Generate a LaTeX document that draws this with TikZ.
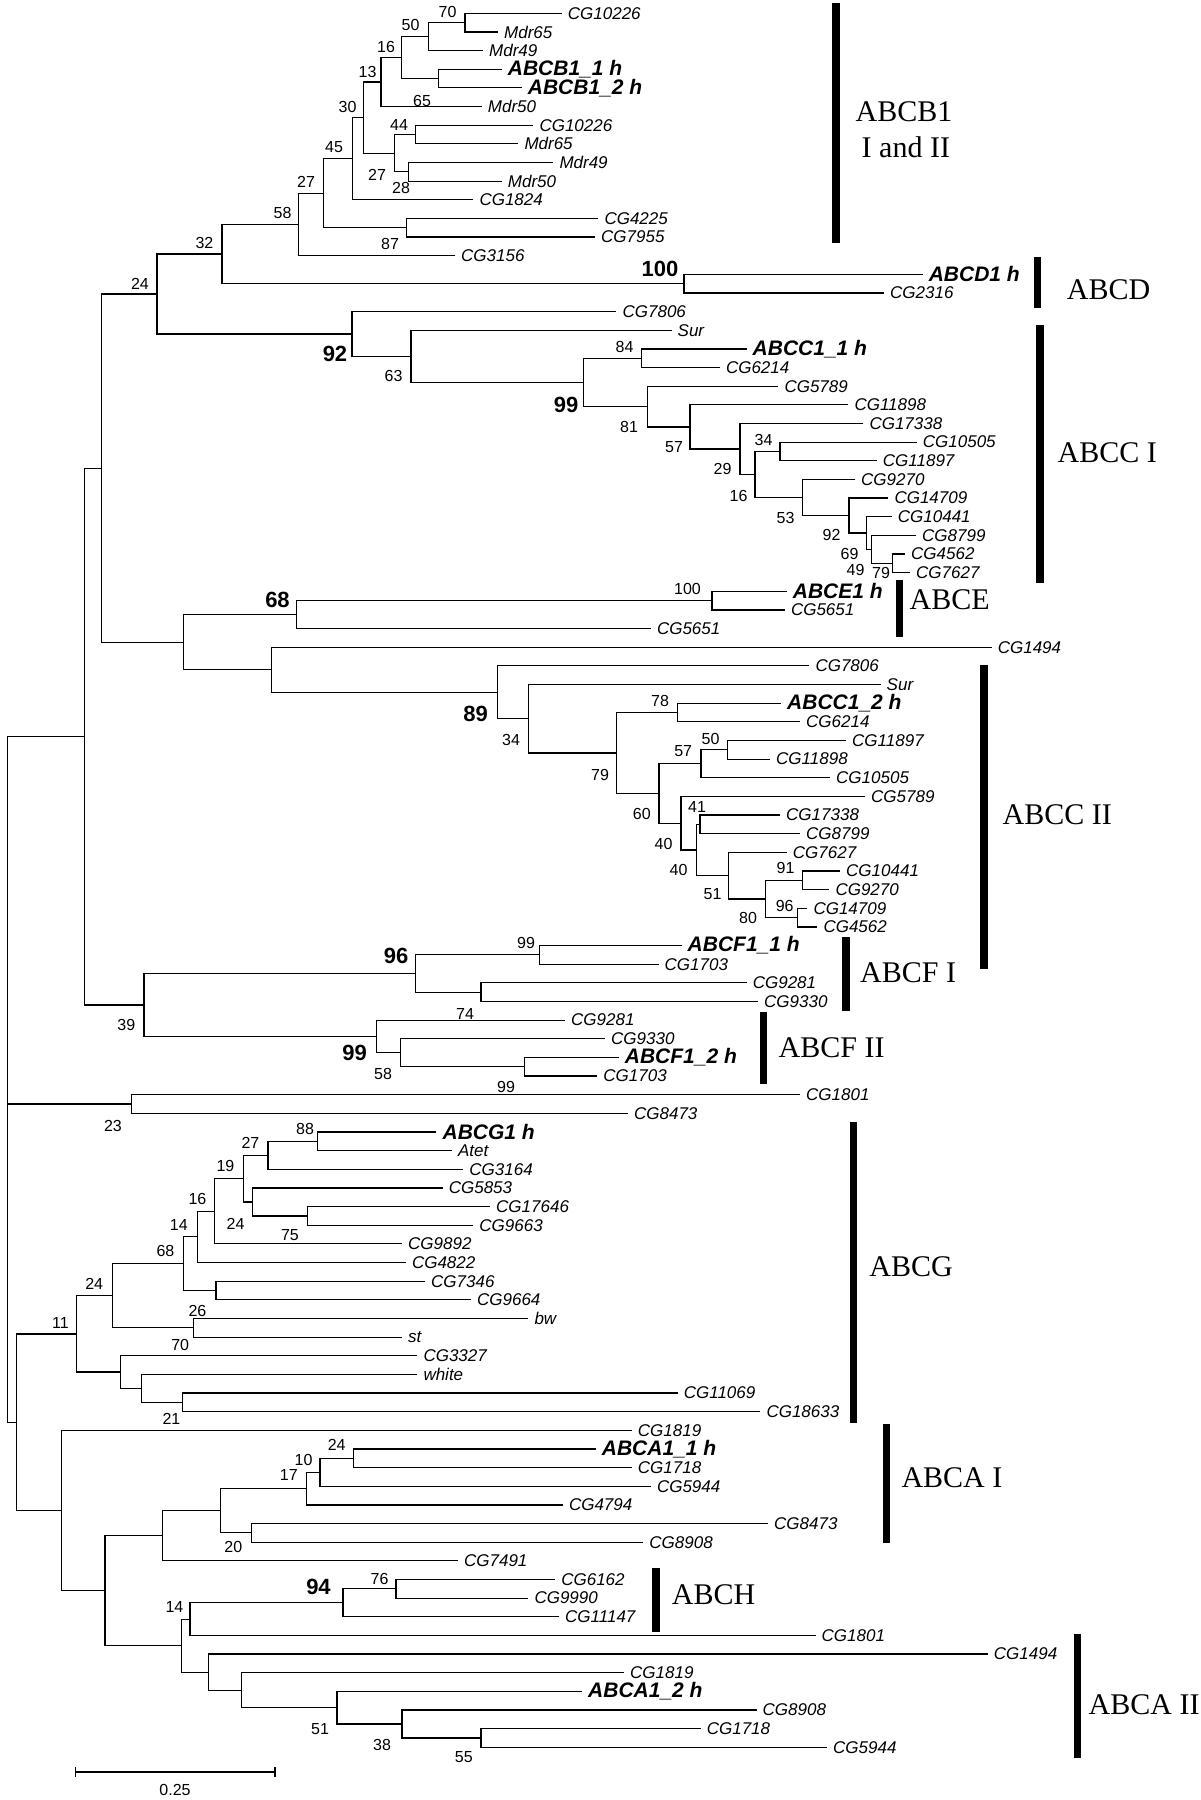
\documentclass[tikz,border=0pt]{standalone}
\usepackage{fontspec}
\setmainfont{Liberation Sans}
\newfontfamily\cladefont{Liberation Serif}
\begin{document}
\begin{tikzpicture}[x=1pt,y=-1pt,
  branch/.style={line width=1.2pt},
  leaf/.style={anchor=west, inner xsep=6pt, inner ysep=1pt, font=\fontsize{17}{17}\selectfont\itshape},
  leafb/.style={leaf, font=\fontsize{21}{21}\selectfont\bfseries\itshape},
  bs/.style={inner sep=0pt, font=\fontsize{16}{16}\selectfont},
  bsb/.style={inner sep=0pt, font=\fontsize{22}{22}\selectfont\bfseries},
  clade/.style={anchor=west, inner sep=0pt, font=\cladefont\fontsize{30}{30}\selectfont},
  cladebar/.style={line width=7.5pt},
]
\useasboundingbox[fill=white] (0,0) rectangle (1201,1800);

\begin{scope}[y=-18.645pt, yshift=-13.3pt]
% ---------- leaves ----------
\foreach \i/\xx/\t in {
 0/561.7/CG10226, 1/498/Mdr65, 2/483/Mdr49, 5/481.7/Mdr50, 6/533.3/CG10226,
 7/518.3/Mdr65, 8/553.3/Mdr49, 9/501.7/Mdr50, 10/473.3/CG1824, 11/598.3/CG4225,
 12/595/CG7955, 13/455/CG3156, 15/884/CG2316, 16/616.4/CG7806, 17/671.5/Sur,
 19/719.8/CG6214, 20/778.3/CG5789, 21/848.3/CG11898, 22/863.3/CG17338,
 23/916.7/CG10505, 24/876.7/CG11897, 25/855/CG9270, 26/888.3/CG14709,
 27/891.7/CG10441, 28/916/CG8799, 29/905/CG4562, 30/910/CG7627,
 32/784.8/CG5651, 33/650.8/CG5651, 34/991.6/CG1494, 35/809.3/CG7806, 36/880.5/Sur,
 38/800/CG6214, 39/846/CG11897, 40/770/CG11898, 41/830/CG10505, 42/865/CG5789,
 43/780/CG17338, 44/800/CG8799, 45/786.7/CG7627, 46/840/CG10441, 47/829.3/CG9270,
 48/807.3/CG14709, 49/817.3/CG4562, 51/658.5/CG1703, 52/746.6/CG9281,
 53/758/CG9330, 54/565/CG9281, 55/605/CG9330, 57/597.2/CG1703, 58/800/CG1801,
 59/627.9/CG8473, 61/451.8/Atet, 62/463.2/CG3164, 63/442.6/CG5853,
 64/490/CG17646, 65/473.2/CG9663, 66/402/CG9892, 67/405.8/CG4822, 68/425/CG7346,
 69/470.9/CG9664, 70/528.3/bw, 71/402/st, 72/417.3/CG3327, 73/417.3/white,
 74/677.6/CG11069, 75/760.3/CG18633, 76/631.7/CG1819, 78/631.7/CG1718,
 79/650.8/CG5944, 80/562.8/CG4794, 81/768/CG8473, 82/643.2/CG8908, 83/457.9/CG7491,
 84/555.1/CG6162, 85/528.3/CG9990, 86/559/CG11147, 87/815.5/CG1801, 88/987.7/CG1494,
 89/624/CG1819, 91/756.5/CG8908, 92/700.6/CG1718, 93/827/CG5944}
 \node[leaf] (L\i) at (\xx,\i) {\t};
\foreach \i/\xx/\t in {
 3/501.7/ABCB1\_1 h, 4/521.7/ABCB1\_2 h, 14/922.6/ABCD1 h, 18/746.5/ABCC1\_1 h,
 31/786.7/ABCE1 h, 37/781/ABCC1\_2 h, 50/681.5/ABCF1\_1 h, 56/618.7/ABCF1\_2 h,
 60/436.4/ABCG1 h, 77/595.7/ABCA1\_1 h, 90/582/ABCA1\_2 h}
 \node[leafb] (L\i) at (\xx,\i) {\t};
% ---------- internal nodes ----------
\foreach \n/\xx/\yy in {
 n70/465/0.5, n50/428.3/1.25, nB1/438.3/3.5, n16/401.7/2.375, n13/381/3.6875,
 n44/415.7/6.5, n28/408.3/8.5, n27a/394.3/7.5, n30/363.3/5.59375, n45/352.7/7.796875,
 n87/406.7/11.5, n27/323.3/9.6484, n58/298.3/11.3242, nD/684/14.5, n32/222/12.9121,
 n84/641.7/18.5, n79c/892.3/29.5, n49/871.7/28.75, n69/866.7/27.875, n92c/849/26.9375,
 n53/802.3/25.96875, n34/780/23.5, n16c/755/24.734, n29/740/23.367, n57c/690/22.1836,
 n81/647.3/21.0918, n99c/583.5/19.7959, n63/411/18.398, n92/352/17.199, n24t/157/15.0555,
 nE/712/31.5, n68/296.3/32.25, n78/677.6/37.5, n50c/727.3/39.5, n57d/701/40.25,
 n41/700/43.5, n91/802.3/46.5, n96/797.7/48.5, n80/765.7/47.5, n51/728.3/46.25,
 n40b/696.7/44.875, n40a/681/43.4375, n60/659/41.84375, n79d/616.4/39.672,
 n34d/528.3/37.836, n89/497.7/36.418, nC2/271.8/35.209, nB/183.8/33.7295,
 nA/101.8/24.3925, n99f/539.8/50.5, nF2/480.9/52.5, n96f/415.8/51.5, n99g/524.5/56.5,
 n58f/400.5/55.75, n99h/376.7/54.875, n39/144/53.1875, nTop/84.2/38.79, n23/131.7/58.5,
 n88/317.8/60.5, n27g/268/61.25, n24gg/307.8/64.5, nX/252.7/63.75, n19/243.5/62.5,
 n16g/214.4/64.25, n14g/197.5/65.625, nY/216/68.5, n68g/183.8/67.0625, n26/193.7/70.5,
 n24g/112.6/68.78, n21/182.2/74.5, nW/141.7/73.75, nV/120.2/72.875, n11/76.6/70.828,
 n24a/353.7/77.5, n10/320/78.25, n17/306.3/79.125, n20/251.1/81.5, nP/220.5/80.3125,
 nQ/162.3/81.656, n76/395.9/84.5, n94/343/85.25, n14a/189.9/86.125, n55/480.9/92.5,
 n38/402/91.75, n51a/336.9/90.875, nR/241.2/89.9375, nS/208.3/88.96875,
 nT/181.5/87.547, nU/104.9/84.6, nZ/61.3/80.3, nRR/16.8/75.56, root/7.7/58.5}
 \coordinate (\n) at (\xx,\yy);
\end{scope}

% ---------- branches ----------
\foreach \p/\c in {
 n70/L0.west, n70/L1.west, n50/n70, n50/L2.west, nB1/L3.west, nB1/L4.west,
 n16/n50, n16/nB1, n13/n16, n13/L5.west, n44/L6.west, n44/L7.west,
 n28/L8.west, n28/L9.west, n27a/n44, n27a/n28, n30/n13, n30/n27a,
 n45/n30, n45/L10.west, n87/L11.west, n87/L12.west, n27/n45, n27/n87,
 n58/n27, n58/L13.west, nD/L14.west, nD/L15.west, n32/n58, n32/nD,
 n84/L18.west, n84/L19.west, n79c/L29.west, n79c/L30.west, n49/L28.west, n49/n79c,
 n69/L27.west, n69/n49, n92c/L26.west, n92c/n69, n53/L25.west, n53/n92c,
 n34/L23.west, n34/L24.west, n16c/n34, n16c/n53, n29/L22.west, n29/n16c,
 n57c/L21.west, n57c/n29, n81/L20.west, n81/n57c, n99c/n84, n99c/n81,
 n63/L17.west, n63/n99c, n92/L16.west, n92/n63, n24t/n32, n24t/n92,
 nE/L31.west, nE/L32.west, n68/nE, n68/L33.west,
 n78/L37.west, n78/L38.west, n50c/L39.west, n50c/L40.west, n57d/n50c, n57d/L41.west,
 n41/L43.west, n41/L44.west, n91/L46.west, n91/L47.west, n96/L48.west, n96/L49.west,
 n80/n91, n80/n96, n51/L45.west, n51/n80, n40b/n41, n40b/n51, n40a/L42.west, n40a/n40b,
 n60/n57d, n60/n40a, n79d/n78, n79d/n60, n34d/L36.west, n34d/n79d,
 n89/L35.west, n89/n34d, nC2/L34.west, nC2/n89, nB/n68, nB/nC2, nA/n24t, nA/nB,
 n99f/L50.west, n99f/L51.west, nF2/L52.west, nF2/L53.west, n96f/n99f, n96f/nF2,
 n99g/L56.west, n99g/L57.west, n58f/L55.west, n58f/n99g, n99h/L54.west, n99h/n58f,
 n39/n96f, n39/n99h, nTop/nA, nTop/n39, n23/L58.west, n23/L59.west,
 n88/L60.west, n88/L61.west, n27g/n88, n27g/L62.west, n24gg/L64.west, n24gg/L65.west,
 nX/L63.west, nX/n24gg, n19/n27g, n19/nX, n16g/n19, n16g/L66.west, n14g/n16g, n14g/L67.west,
 nY/L68.west, nY/L69.west, n68g/n14g, n68g/nY, n26/L70.west, n26/L71.west,
 n24g/n68g, n24g/n26, n21/L74.west, n21/L75.west, nW/L73.west, nW/n21,
 nV/L72.west, nV/nW, n11/n24g, n11/nV,
 n24a/L77.west, n24a/L78.west, n10/n24a, n10/L79.west, n17/n10, n17/L80.west,
 n20/L81.west, n20/L82.west, nP/n17, nP/n20, nQ/nP, nQ/L83.west,
 n76/L84.west, n76/L85.west, n94/n76, n94/L86.west, n14a/n94, n14a/L87.west,
 n55/L92.west, n55/L93.west, n38/L91.west, n38/n55, n51a/L90.west, n51a/n38,
 nR/L89.west, nR/n51a, nS/L88.west, nS/nR, nT/n14a, nT/nS, nU/nQ, nU/nT,
 nZ/L76.west, nZ/nU, nRR/n11, nRR/nZ, root/nTop, root/n23, root/nRR}
 \draw[branch] (\p) |- (\c);

% ---------- bootstrap values ----------
\foreach \xx/\yy/\t in {
 447.5/12/70, 410.5/25/50, 386/46.5/16, 367.5/71.5/13, 422/101/65, 347.5/107/30,
 399/124.5/44, 334/147/45, 377/175/27, 401/187.5/28, 306/181.5/27, 390/244/87,
 282.5/212.5/58, 204.5/242.5/32, 140/283.5/24,
 393.5/376/63, 624.5/347/84, 629/427/81, 674/447/57, 763.5/439.5/34, 722.5/469/29,
 738.5/495.5/16, 785.5/518/53, 831.5/535/92, 849.5/554/69, 855.5/569.5/49, 881/573/79,
 687.5/589/100,
 660/700.5/78, 511/740/34, 710.5/739/50, 683.2/751/57, 600/774.5/79, 641.8/813.5/60,
 697/807/41, 663.5/844/40, 678.5/870/40, 785.5/868/91, 712.5/894/51, 784.7/905.5/96,
 748/918/80,
 526/943/99, 126.3/1025/39, 465/1013.5/74, 383/1074/58, 506/1087/99, 113/1125.5/23,
 305/1128.5/88, 250.4/1143/27, 225.5/1166/19, 197.5/1198.5/16, 235.6/1223.7/24,
 178.8/1224.5/14, 289.9/1235.5/75, 165.5/1251/68, 94.2/1284/24, 197.5/1310.5/26,
 60.5/1322.5/11, 180.2/1344.5/70, 171.5/1418.7/21,
 336.7/1445/24, 303.5/1459.7/10, 288.8/1475/17, 233.3/1546.6/20, 379.5/1578.9/76,
 174.5/1606.8/14, 320.1/1729/51, 382/1745.3/38, 463.8/1757.5/55}
 \node[bs] at (\xx,\yy) {\t};
\foreach \xx/\yy/\t in {
 660/268.5/100, 335/353.5/92, 566/405/99, 277.5/600/68, 475.5/713.5/89,
 396/956/96, 354.7/1053/99, 318.5/1587/94}
 \node[bsb] at (\xx,\yy) {\t};

% ---------- clade bars and names ----------
\draw[cladebar] (836.1,3.3) -- (836.1,243.3);
\node[clade] at (855.4,111.4) {ABCB1};
\node[clade] at (861.5,147) {I and II};
\draw[cladebar] (1037.5,257.3) -- (1037.5,308.3);
\node[clade] at (1066.7,289.3) {ABCD};
\draw[cladebar] (1039.8,325) -- (1039.8,583.3);
\node[clade] at (1057.5,452.4) {ABCC I};
\draw[cladebar] (899.3,580) -- (899.3,636.7);
\node[clade] at (909.4,599.4) {ABCE};
\draw[cladebar] (984,665) -- (984,969.3);
\node[clade] at (1002.4,815.2) {ABCC II};
\draw[cladebar] (846,937.3) -- (846,1011);
\node[clade] at (860,972.5) {ABCF I};
\draw[cladebar] (763.4,1012.3) -- (763.4,1084.3);
\node[clade] at (778.5,1047.2) {ABCF II};
\draw[cladebar] (853.7,1122.3) -- (853.7,1423.3);
\node[clade] at (869.2,1266.5) {ABCG};
\draw[cladebar] (886.7,1424) -- (886.7,1543.3);
\node[clade] at (901.3,1477.7) {ABCA I};
\draw[cladebar] (656.2,1568.3) -- (656.2,1631.7);
\node[clade] at (671.7,1594.8) {ABCH};
\draw[cladebar] (1077.3,1634.3) -- (1077.3,1758.3);
\node[clade] at (1088.5,1705) {ABCA II};

% ---------- scale bar ----------
\coordinate (sb1) at (75.8,1772);
\coordinate (sb2) at (275,1772);
\draw[branch] (sb1) -- (sb2);
\draw[branch] ([yshift=5pt]sb1) -- ([yshift=-5pt]sb1);
\draw[branch] ([yshift=5pt]sb2) -- ([yshift=-5pt]sb2);
\node[bs] (sbl) at (175,1790) {0.25};
\end{tikzpicture}
\end{document}
